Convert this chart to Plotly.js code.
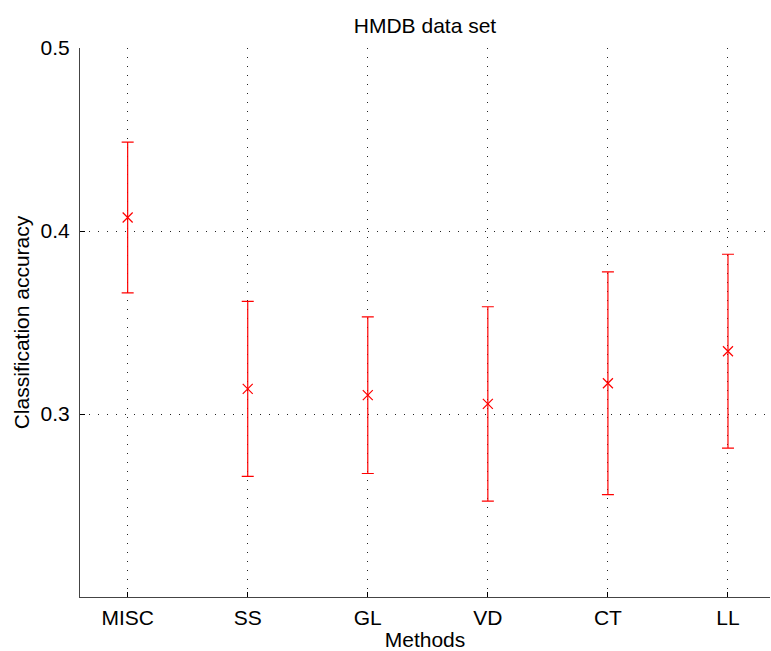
<!DOCTYPE html>
<html>
<head>
<meta charset="utf-8">
<script src="https://cdn.plot.ly/plotly-3.0.1.min.js"></script>
<style>html,body{margin:0;padding:0;background:#fff;}#chart{width:771px;height:651px;}</style>
</head>
<body>
<div id="chart"></div>
<script>
const methods = ["MISC", "SS", "GL", "VD", "CT", "LL"];
const meanAccuracy = [0.4074, 0.3137, 0.3103, 0.3055, 0.3168, 0.3343];
const errorAccuracy = [0.0412, 0.0478, 0.0428, 0.0531, 0.0609, 0.0530];
const yTickValues = [0.3, 0.4, 0.5];
const yTickLabels = ["0.3", "0.4", "0.5"];

const trace = {
  x: methods,
  y: meanAccuracy,
  type: "scatter",
  mode: "markers",
  marker: {symbol: "x-thin-open", size: 10, color: "#ff0000", line: {color: "#ff0000", width: 1.2}},
  error_y: {type: "data", array: errorAccuracy, visible: true, color: "#ff0000", thickness: 1.2, width: 6},
  showlegend: false,
  hoverinfo: "none"
};

const fontFam = "Liberation Sans, Arial, Helvetica, sans-serif";

const layout = {
  width: 771,
  height: 651,
  margin: {l: 80, r: 1, t: 48, b: 54},
  paper_bgcolor: "#ffffff",
  plot_bgcolor: "#ffffff",
  font: {family: fontFam, color: "#000000", size: 21},
  title: {text: "HMDB data set", font: {family: fontFam, size: 21, color: "#000"}, x: 0.5, xref: "paper", xanchor: "center", y: 1, yref: "container", yanchor: "top", pad: {t: 18}},
  xaxis: {
    type: "category",
    range: [-0.397, 5.35],
    showline: true, linecolor: "#444", linewidth: 1,
    showgrid: true, gridcolor: "#222", griddash: "1px,8px", gridwidth: 1,
    ticks: "inside", ticklen: 5, tickcolor: "#000",
    tickfont: {family: fontFam, size: 21},
    ticklabelstandoff: 2,
    title: {text: "Methods", font: {family: fontFam, size: 21}, standoff: 4},
    zeroline: false, mirror: false
  },
  yaxis: {
    range: [0.2, 0.5],
    tickvals: yTickValues, ticktext: yTickLabels,
    showline: true, linecolor: "#444", linewidth: 1,
    showgrid: true, gridcolor: "#222", griddash: "1px,8px", gridwidth: 1,
    ticks: "inside", ticklen: 5, tickcolor: "#000",
    tickfont: {family: fontFam, size: 21},
    ticklabelstandoff: 5,
    title: {text: "Classification accuracy", font: {family: fontFam, size: 21}, standoff: 5},
    zeroline: false, mirror: false
  }
};

Plotly.newPlot("chart", [trace], layout, {displayModeBar: false, staticPlot: true});
</script>
</body>
</html>
